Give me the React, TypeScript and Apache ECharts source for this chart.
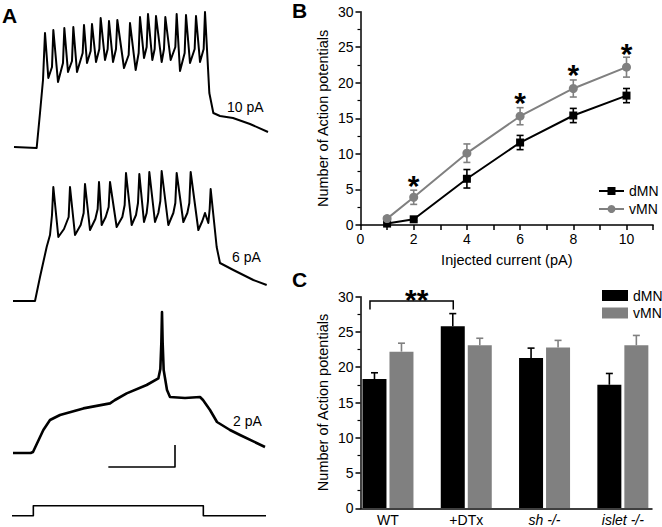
import React, { useEffect, useRef } from 'react';
import * as echarts from 'echarts';

const FONT = '"Liberation Sans", Arial, Helvetica, sans-serif';
const BLACK = '#000000';
const GRAY = '#808080';

// ---------- Panel A: membrane potential traces, [time (ms), Vm (mV)] ----------
const trace10pA: number[][] = [
  [-60, -60], [8, -60.5], [18, -43], [27, -26.5], [33, -3],
  [43, -25.5], [54, -20], [58, -1.5],
  [72, -27.5], [87, -18], [91, -0.5],
  [102, -22.5], [114, -17], [118, 0],
  [129, -22.5], [146, -13], [150, 1],
  [159, -18], [170, -12], [174, 1.5],
  [186, -17.5], [196, -11], [200, 4.5],
  [213, -16.5], [221, -11], [225, 3],
  [237, -17.5], [246, -11], [250, 3.5],
  [270, -20.5], [284, -14], [288, 2],
  [305, -21.5], [314, -13], [318, 5],
  [330, -15.5], [338, -10], [342, 6.5],
  [355, -16.5], [362, -11], [366, 5.5],
  [383, -17.5], [390, -11], [394, 5],
  [410, -16.5], [424, -10], [428, 6.5],
  [438, -22], [452, -13], [456, 6],
  [468, -18], [482, -11], [486, 5.5],
  [498, -17.5], [509, -11], [513, 7.5],
  [526, -33], [538, -43], [558, -44.5], [597, -45.5], [648, -48.5], [702, -52.5],
];
const trace6pA: number[][] = [
  [-63, -60], [3, -60], [18, -48], [38, -33], [48, -27], [54, -17], [58, -3],
  [73, -28], [90, -24], [104, -18], [108, -3],
  [123, -27], [140, -22], [149, -16], [153, -1.5],
  [168, -24.5], [184, -19], [191, -14], [195, -0.5],
  [203, -22], [215, -18], [224, -13], [228, -0.5],
  [248, -23], [265, -18], [272, -12], [276, 4],
  [293, -22], [306, -17], [312, -11], [316, 3.5],
  [330, -20.5], [338, -16], [342, -10], [346, 4.5],
  [363, -20.5], [373, -16], [379, -10], [383, 5],
  [403, -22], [418, -16], [424, -11], [428, 4],
  [448, -20.5], [460, -16], [466, -11], [470, 4.5],
  [493, -24.5], [505, -20], [513, -16], [523, -21], [527, -14], [530, -4],
  [548, -33], [558, -41], [598, -44.5], [658, -49.5], [698, -52],
];
const trace2pA: number[][] = [
  [-63, -60], [-10, -60], [-3, -59.5], [28, -48.5], [48, -43.5], [78, -41],
  [148, -37.7], [228, -35.2], [243, -33.5], [278, -30.2], [338, -26], [373, -22.7],
  [379, -18], [382, -5], [384, 10.5], [386, -5], [389, -18.5], [399, -28.5],
  [408, -32], [453, -32.5], [498, -32], [507, -33.5], [528, -38.5], [549, -44.5],
  [588, -48.5], [618, -51], [693, -57],
];
const traceLabels = ['10 pA', '6 pA', '2 pA'];
// current step command
const stepTime = [-66, -2, -2, 508, 508, 696];
const stepCurrent = [0, 0, 2, 2, 0, 0];
// scale bar (200 ms, ~10 mV)
const scaleBarTime = [223, 423, 423];
const scaleBarMv = [-67, -67, -56];

// ---------- Panel B ----------
const currents = [1, 2, 4, 6, 8, 10];
const dMNMean = [0.2, 0.8, 6.5, 11.6, 15.4, 18.2];
const dMNSem = [0.15, 0.2, 1.3, 1.0, 1.0, 1.0];
const vMNMean = [0.9, 3.9, 10.1, 15.3, 19.2, 22.2];
const vMNSem = [0.3, 1.0, 1.3, 1.2, 1.2, 1.4];
const starCurrents = [2, 6, 8, 10];
const starLevels = [6.4, 18.1, 21.9, 24.9];

// ---------- Panel C ----------
const groups = ['WT', '+DTx', 'sh -/-', 'islet -/-'];
const dMNBar = [18.3, 25.8, 21.3, 17.5];
const dMNBarSem = [0.9, 1.8, 1.4, 1.6];
const vMNBar = [22.2, 23.1, 22.8, 23.1];
const vMNBarSem = [1.2, 1.0, 1.0, 1.4];
const bracketFrom = 0;
const bracketTo = 1;
const bracketLevel = 29.4;
const bracketLeg = 28.2;
const bracketText = '**';

const axisLineStyle = { color: BLACK, width: 1.5 };
const tickLabel = { fontSize: 14, color: BLACK, fontFamily: FONT };
const nameStyle = { fontSize: 14.5, color: BLACK, fontFamily: FONT };
const STAR_SIZE = 30;

function pairs(xs: number[], ys: number[]) {
  return xs.map((x, i) => [x, ys[i]]);
}

function errBarsB(color: string) {
  return (params: any, api: any) => {
    const x = api.value(0);
    const m = api.value(1);
    const e = api.value(2);
    const top = api.coord([x, m + e]);
    const bot = api.coord([x, m - e]);
    const w = 3.5;
    const st = { stroke: color, lineWidth: 1.6 };
    return {
      type: 'group',
      children: [
        { type: 'line', shape: { x1: top[0], y1: top[1], x2: bot[0], y2: bot[1] }, style: st },
        { type: 'line', shape: { x1: top[0] - w, y1: top[1], x2: top[0] + w, y2: top[1] }, style: st },
        { type: 'line', shape: { x1: bot[0] - w, y1: bot[1], x2: bot[0] + w, y2: bot[1] }, style: st },
      ],
    };
  };
}

function errBarsC(color: string, offset: number) {
  return (params: any, api: any) => {
    const i = api.value(0);
    const m = api.value(1);
    const e = api.value(2);
    const base = api.coord([i, m]);
    const top = api.coord([i, m + e]);
    const x = base[0] + offset;
    const w = 3.5;
    const st = { stroke: color, lineWidth: 1.6 };
    return {
      type: 'group',
      children: [
        { type: 'line', shape: { x1: x, y1: base[1], x2: x, y2: top[1] }, style: st },
        { type: 'line', shape: { x1: x - w, y1: top[1], x2: x + w, y2: top[1] }, style: st },
      ],
    };
  };
}

function traceSeries(data: number[][], idx: number, width: number) {
  return {
    type: 'line',
    xAxisIndex: idx,
    yAxisIndex: idx,
    data,
    symbol: 'none',
    silent: true,
    lineStyle: { color: BLACK, width, join: 'round' },
  };
}

const hiddenTraceX = (i: number) => ({ type: 'value', gridIndex: i, min: -70, max: 710, show: false });

const valueY = (gi: number) => ({
  type: 'value',
  gridIndex: gi,
  min: 0,
  max: 30,
  interval: 5,
  axisLine: { show: true, lineStyle: axisLineStyle },
  axisTick: { show: true, length: 5, lineStyle: axisLineStyle },
  minorTick: { show: true, splitNumber: 2, length: 3, lineStyle: { color: BLACK, width: 1.2 } },
  axisLabel: { ...tickLabel, margin: 7 },
  splitLine: { show: false },
  minorSplitLine: { show: false },
  name: 'Number of Action potentials',
  nameLocation: 'middle',
  nameGap: 30.5,
  nameTextStyle: nameStyle,
});

const option: any = {
  animation: false,
  backgroundColor: '#ffffff',
  textStyle: { fontFamily: FONT, color: BLACK },
  grid: [
    { left: 10.667, top: 3, width: 260, height: 164 },
    { left: 10.667, top: 157, width: 260, height: 164 },
    { left: 10.667, top: 309, width: 260, height: 164 },
    { left: 10.667, top: 503.2, width: 260, height: 15 },
    { left: 360.5, top: 11.7, width: 292.6, height: 213.3 },
    { left: 360.5, top: 296.7, width: 291.5, height: 211.6 },
    { left: 348.83, top: 296.7, width: 313.3, height: 211.6 },
  ],
  xAxis: [
    hiddenTraceX(0),
    hiddenTraceX(1),
    hiddenTraceX(2),
    hiddenTraceX(3),
    {
      type: 'value',
      gridIndex: 4,
      min: 0,
      max: 11,
      interval: 1,
      axisLine: { show: true, onZero: false, lineStyle: axisLineStyle },
      axisTick: { show: true, length: 5, lineStyle: axisLineStyle },
      axisLabel: {
        ...tickLabel,
        margin: 6.5,
        formatter: (v: number) => (v % 2 === 0 && v <= 10 ? String(v) : ''),
      },
      splitLine: { show: false },
      name: 'Injected current (pA)',
      nameLocation: 'middle',
      nameGap: 27,
      nameTextStyle: nameStyle,
    },
    {
      type: 'value',
      gridIndex: 5,
      min: 0,
      max: 1,
      axisLine: { show: true, onZero: false, lineStyle: axisLineStyle },
      axisTick: { show: false },
      axisLabel: { show: false },
      splitLine: { show: false },
    },
    {
      type: 'category',
      gridIndex: 6,
      data: groups,
      axisLine: { show: false },
      axisTick: { show: false },
      axisLabel: {
        ...tickLabel,
        interval: 0,
        hideOverlap: false,
        margin: 5,
        formatter: (v: string, i: number) => (i >= 2 ? `{it|${v}}` : v),
        rich: { it: { fontStyle: 'italic', fontSize: 14, color: BLACK, fontFamily: FONT } },
      },
    },
  ],
  yAxis: [
    { type: 'value', gridIndex: 0, min: -70, max: 12, show: false },
    { type: 'value', gridIndex: 1, min: -70, max: 12, show: false },
    { type: 'value', gridIndex: 2, min: -70, max: 12, show: false },
    { type: 'value', gridIndex: 3, min: -0.5, max: 2.5, show: false },
    valueY(4),
    valueY(5),
    { type: 'value', gridIndex: 6, min: 0, max: 30, show: false },
  ],
  legend: [
    {
      data: ['dMN', 'vMN'],
      orient: 'vertical',
      left: 598,
      top: 184,
      itemWidth: 25,
      itemHeight: 10,
      itemGap: 4,
      padding: 0,
      selectedMode: false,
      textStyle: { fontSize: 14, color: BLACK, fontFamily: FONT },
    },
    {
      data: [
        { name: 'dMN', icon: 'rect', itemStyle: { color: BLACK, borderWidth: 0 } },
        { name: 'vMN', icon: 'rect', itemStyle: { color: GRAY, borderWidth: 0 } },
      ],
      orient: 'vertical',
      left: 602,
      top: 288.5,
      itemWidth: 26,
      itemHeight: 11,
      itemGap: 3.5,
      padding: 0,
      selectedMode: false,
      textStyle: { fontSize: 14, color: BLACK, fontFamily: FONT },
    },
  ],
  series: [
    // Panel A
    traceSeries(trace10pA, 0, 2),
    traceSeries(trace6pA, 1, 2),
    traceSeries(trace2pA, 2, 2.6),
    traceSeries(pairs(stepTime, stepCurrent), 3, 1.6),
    traceSeries(pairs(scaleBarTime, scaleBarMv), 2, 1.6),
    // Panel B
    {
      type: 'custom',
      name: 'dMN err',
      xAxisIndex: 4,
      yAxisIndex: 4,
      silent: true,
      data: currents.map((x, i) => [x, dMNMean[i], dMNSem[i]]),
      renderItem: errBarsB(BLACK),
      z: 3,
    },
    {
      type: 'custom',
      name: 'vMN err',
      xAxisIndex: 4,
      yAxisIndex: 4,
      silent: true,
      data: currents.map((x, i) => [x, vMNMean[i], vMNSem[i]]),
      renderItem: errBarsB(GRAY),
      z: 3,
    },
    {
      type: 'line',
      name: 'dMN',
      xAxisIndex: 4,
      yAxisIndex: 4,
      data: pairs(currents, dMNMean),
      symbol: 'rect',
      symbolSize: 8,
      itemStyle: { color: BLACK },
      lineStyle: { color: BLACK, width: 2 },
      z: 4,
    },
    {
      type: 'line',
      name: 'vMN',
      xAxisIndex: 4,
      yAxisIndex: 4,
      data: pairs(currents, vMNMean),
      symbol: 'circle',
      symbolSize: 9,
      itemStyle: { color: GRAY },
      lineStyle: { color: GRAY, width: 2 },
      z: 4,
    },
    {
      type: 'custom',
      name: 'stars',
      xAxisIndex: 4,
      yAxisIndex: 4,
      silent: true,
      data: pairs(starCurrents, starLevels),
      renderItem: (params: any, api: any) => {
        const c = api.coord([api.value(0), api.value(1)]);
        return {
          type: 'text',
          x: c[0],
          y: c[1] + STAR_SIZE * 0.19,
          style: {
            text: '*',
            fontSize: STAR_SIZE,
            fontWeight: 'bold',
            fontFamily: FONT,
            fill: BLACK,
            align: 'center',
            verticalAlign: 'middle',
          },
        };
      },
      z: 5,
    },
    // Panel C
    {
      type: 'bar',
      name: 'dMN',
      xAxisIndex: 6,
      yAxisIndex: 6,
      data: dMNBar,
      barWidth: 24,
      barGap: '12.5%',
      itemStyle: { color: BLACK },
      silent: true,
    },
    {
      type: 'bar',
      name: 'vMN',
      xAxisIndex: 6,
      yAxisIndex: 6,
      data: vMNBar,
      barWidth: 24,
      barGap: '12.5%',
      itemStyle: { color: GRAY },
      silent: true,
    },
    {
      type: 'custom',
      name: 'dMN bar err',
      xAxisIndex: 6,
      yAxisIndex: 6,
      silent: true,
      data: groups.map((g, i) => [i, dMNBar[i], dMNBarSem[i]]),
      renderItem: errBarsC(BLACK, -13.5),
      z: 3,
    },
    {
      type: 'custom',
      name: 'vMN bar err',
      xAxisIndex: 6,
      yAxisIndex: 6,
      silent: true,
      data: groups.map((g, i) => [i, vMNBar[i], vMNBarSem[i]]),
      renderItem: errBarsC(GRAY, 13.5),
      z: 3,
    },
    {
      type: 'custom',
      name: 'bracket',
      xAxisIndex: 6,
      yAxisIndex: 6,
      silent: true,
      data: [[bracketFrom, bracketLevel, bracketTo, bracketLeg]],
      renderItem: (params: any, api: any) => {
        const p0 = api.coord([api.value(0), api.value(1)]);
        const p1 = api.coord([api.value(2), api.value(1)]);
        const legY = api.coord([api.value(0), api.value(3)])[1];
        const x0 = p0[0] - 18;
        const x1 = p1[0] - 13;
        return {
          type: 'group',
          children: [
            {
              type: 'polyline',
              shape: { points: [[x0, legY], [x0, p0[1]], [x1, p0[1]], [x1, legY]] },
              style: { stroke: BLACK, lineWidth: 1.5, fill: null },
            },
            {
              type: 'text',
              x: (x0 + x1) / 2 + 5,
              y: p0[1] - 7 + STAR_SIZE * 0.19,
              style: {
                text: bracketText,
                fontSize: STAR_SIZE,
                fontWeight: 'bold',
                fontFamily: FONT,
                fill: BLACK,
                align: 'center',
                verticalAlign: 'middle',
              },
            },
          ],
        };
      },
      z: 5,
    },
  ],
  graphic: [
    { type: 'text', x: 2, y: 15, style: { text: 'A', fontSize: 21, fontWeight: 'bold', fontFamily: FONT, fill: BLACK, verticalAlign: 'middle' } },
    { type: 'text', x: 292, y: 10, style: { text: 'B', fontSize: 21, fontWeight: 'bold', fontFamily: FONT, fill: BLACK, verticalAlign: 'middle' } },
    { type: 'text', x: 292, y: 279, style: { text: 'C', fontSize: 21, fontWeight: 'bold', fontFamily: FONT, fill: BLACK, verticalAlign: 'middle' } },
    { type: 'text', x: 227, y: 107, style: { text: traceLabels[0], fontSize: 14, fontFamily: FONT, fill: BLACK, verticalAlign: 'middle' } },
    { type: 'text', x: 232, y: 257, style: { text: traceLabels[1], fontSize: 14, fontFamily: FONT, fill: BLACK, verticalAlign: 'middle' } },
    { type: 'text', x: 233, y: 420.5, style: { text: traceLabels[2], fontSize: 14, fontFamily: FONT, fill: BLACK, verticalAlign: 'middle' } },
  ],
};

export default function App() {
  const ref = useRef<HTMLDivElement>(null);
  useEffect(() => {
    document.body.style.margin = '0';
    const chart = echarts.init(ref.current as HTMLDivElement, null, { renderer: 'svg' });
    chart.setOption(option);
    return () => chart.dispose();
  }, []);
  return <div ref={ref} style={{ position: 'fixed', left: 0, top: 0, width: 662, height: 527, background: '#fff' }} />;
}
